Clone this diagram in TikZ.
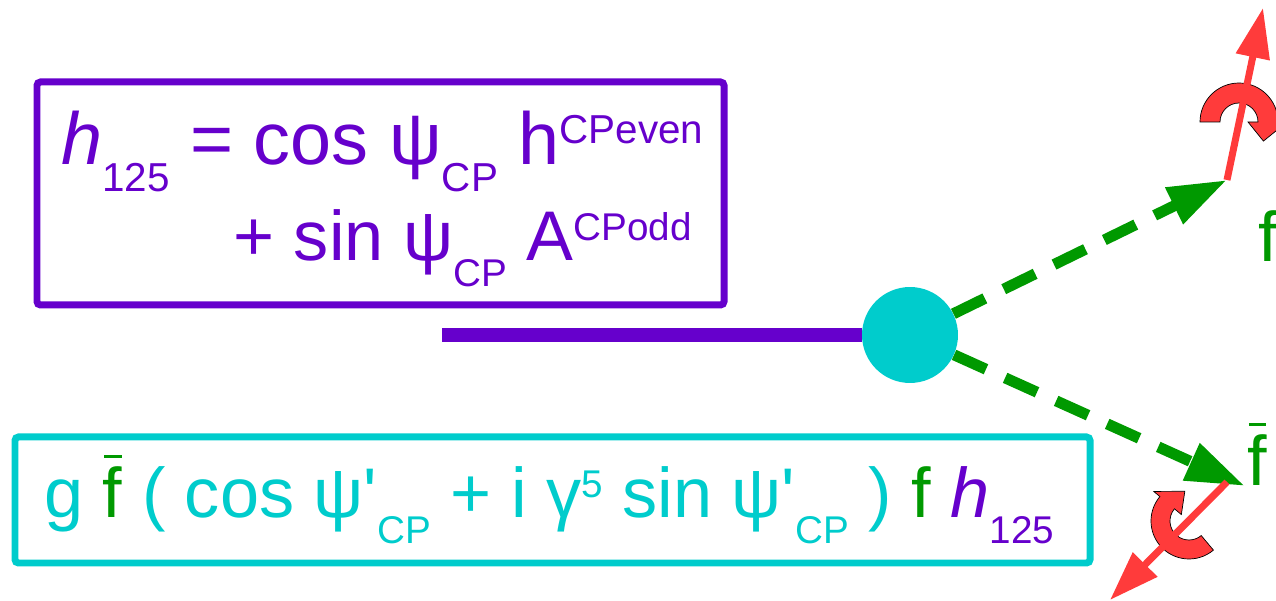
\documentclass[tikz,border=0pt]{standalone}
\usepackage{fontspec}
\setmainfont{Liberation Sans}
\usetikzlibrary{arrows.meta}

\definecolor{hpurple}{HTML}{6600CC}
\definecolor{vcyan}{HTML}{00CCCC}
\definecolor{fgreen}{HTML}{009900}
\definecolor{spinred}{HTML}{FF3B3B}

\newcommand{\lowtxt}[2][23]{\raisebox{-0.36em}{\fontsize{#1}{#1}\selectfont #2}}
\newcommand{\hightxt}[2][23]{\raisebox{0.29em}{\fontsize{#1}{#1}\selectfont #2}}
\newcommand{\fbar}[1][0.85em]{\leavevmode\rlap{\hspace{0.02em}\raisebox{#1}{\rule{0.25em}{0.045em}}}f}

\begin{document}
\begin{tikzpicture}[x=0.02cm, y=-0.02cm,
	lbl/.style={anchor=base west, inner sep=0pt},
	fermion/.style={fgreen, line width=0.22cm, dash pattern=on 0.7cm off 0.42cm, -{Triangle[length=1.18cm, width=0.76cm]}},
	spinarrow/.style={spinred, line width=0.14cm, -{Triangle[length=1.0cm, width=0.66cm]}},
	spin/.style={fill=spinred, draw=black, line width=0.4pt}]
	\useasboundingbox (0,0) rectangle (1276,601);
	% boxes
	\draw[hpurple, line width=0.14cm, rounded corners=2pt] (37,82) rectangle (724,305);
	\draw[vcyan, line width=0.14cm, rounded corners=2pt] (15,437) rectangle (1090,563);
	\node[lbl, text=hpurple, font=\fontsize{42}{50}\selectfont] (hdef) at (61,165) {\textit{h}\lowtxt{125} = cos ψ\lowtxt{CP} h\hightxt{CPeven}};
	\node[lbl, text=hpurple, font=\fontsize{40}{48}\selectfont] (hmix) at (233,261) {+ sin ψ\lowtxt[22]{CP} A\hightxt[22]{CPodd}};
	\node[lbl, text=vcyan, font=\fontsize{40}{48}\selectfont] (coupling) at (44,518) {g {\color{fgreen}\fbar} ( cos ψ\textquotesingle\lowtxt[22]{CP} + i γ\hightxt[22]{5} sin ψ\textquotesingle\lowtxt[22]{CP} ) {\color{fgreen}f} {\color{hpurple}\textit{h}\lowtxt[22]{125}}};
	% vertex and lines
	\coordinate (hstart) at (442,335);
	\coordinate (ftip) at (1227,180);
	\coordinate (fbtip) at (1245,486);
	\node[circle, fill=vcyan, minimum size=1.92cm, inner sep=0pt] (vtx) at (910,335) {};
	\draw[hpurple, line width=0.28cm] (hstart) -- (vtx);
	\draw[fermion] (vtx) -- (ftip);
	\draw[fermion] (vtx) -- (fbtip);
	% spins
	\coordinate (rotA) at (1239,122);
	\coordinate (rotB) at (1189,521);
	\filldraw[spin] ([shift={(180:39)}]rotA) arc[start angle=180, end angle=360, radius=39] -- ([shift={(0:48)}]rotA) -- ([shift={(38:31)}]rotA) -- ([shift={(0:9)}]rotA) -- ([shift={(0:19)}]rotA) arc[start angle=360, end angle=180, radius=19] -- cycle;
	\filldraw[spin] ([shift={(50:38)}]rotB) arc[start angle=50, end angle=220, radius=38] -- ([shift={(220:46)}]rotB) -- ([shift={(262:30)}]rotB) -- ([shift={(220:10)}]rotB) -- ([shift={(220:19)}]rotB) arc[start angle=220, end angle=50, radius=19] -- cycle;
	\coordinate (spinA) at (1263,8);
	\coordinate (fbase) at (1227,482);
	\coordinate (spinB) at (1110,600);
	\draw[spinarrow] (ftip) -- (spinA);
	\draw[spinarrow] (fbase) -- (spinB);
	\node[lbl, text=fgreen, font=\fontsize{40}{48}\selectfont] (flbl) at (1258,262) {f};
	\node[lbl, text=fgreen, font=\fontsize{40}{48}\selectfont] (fblbl) at (1247,486) {\fbar};
\end{tikzpicture}
\end{document}
